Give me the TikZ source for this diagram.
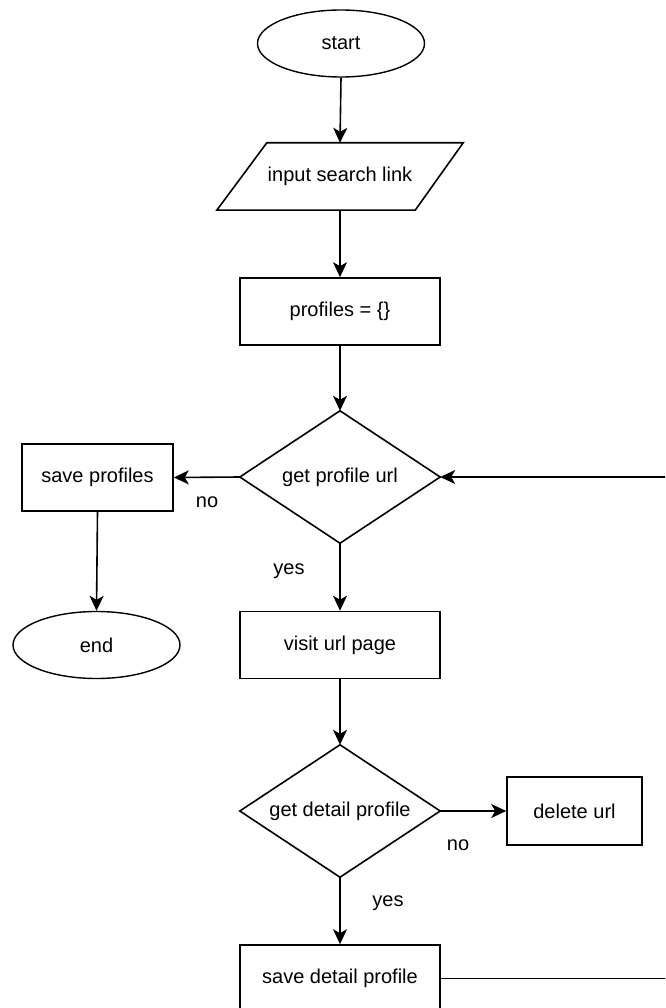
\documentclass[tikz,border=0pt]{standalone}
\usepackage{fontspec}
\setmainfont{Liberation Sans}
\usetikzlibrary{arrows.meta,shapes.geometric,calc}
\begin{document}
\begin{tikzpicture}[x=1pt,y=-1pt,
  every node/.style={font=\fontsize{20}{24}\selectfont},
  line/.style={line width=1.6pt,draw=black},
  arr/.style={line, -{Stealth[length=15pt,width=14pt,inset=4pt]}},
  box/.style={rectangle,draw,line width=1.6pt,minimum width=200pt,minimum height=67pt,inner sep=0pt},
  term/.style={ellipse,draw,line width=1.4pt,minimum width=167pt,minimum height=67pt,inner sep=0pt},
  hold/.style={rectangle,inner sep=0pt},
  lbl/.style={inner sep=0pt}]
\useasboundingbox (0,0) rectangle (665,1008);
\clip (0,0) rectangle (665,1008);
% nodes
\node[term] (start) at (341,43.5) {start};
\node[hold,minimum width=246pt,minimum height=67pt] (in) at (340,176.5) {input search link};
\draw[line,line join=miter] ($(in.north west)+(50,0)$) -- (in.north east) -- ($(in.south east)+(-48,0)$) -- (in.south west) -- cycle;
\node[box] (prof) at (340,311.5) {profiles = \{\}};
\node[hold,minimum width=200pt,minimum height=132pt] (d1) at (340,477) {get profile url};
\draw[line] (d1.north) -- (d1.east) -- (d1.south) -- (d1.west) -- cycle;
\node[box,minimum width=151pt] (sp) at (97.5,477.5) {save profiles};
\node[term] (end) at (96.5,645) {end};
\node[box] (visit) at (340,645) {visit url page};
\node[hold,minimum width=200pt,minimum height=132pt] (d2) at (340,811) {get detail profile};
\draw[line] (d2.north) -- (d2.east) -- (d2.south) -- (d2.west) -- cycle;
\node[box,minimum width=135pt,minimum height=68pt] (del) at (574.5,811) {delete url};
\node[box] (sdp) at (340,978.5) {save detail profile};
% labels
\node[lbl] (lno1) at (207,502) {no};
\node[lbl] (lyes1) at (289,571) {yes};
\node[lbl] (lno2) at (458,845) {no};
\node[lbl] (lyes2) at (388,903) {yes};
% loop corner
\coordinate (loopB) at (700,978.5);
% connectors
\draw[arr] (start.south) -- (in.north);
\draw[arr] (in.south) -- (prof.north);
\draw[arr] (prof.south) -- (d1.north);
\draw[arr] (d1.west) -- (sp.east);
\draw[arr] (sp.south) -- (end.north);
\draw[arr] (d1.south) -- (visit.north);
\draw[arr] (visit.south) -- (d2.north);
\draw[arr] (d2.east) -- (del.west);
\draw[arr] (d2.south) -- (sdp.north);
\draw[arr] (sdp.east) -- (loopB) |- (d1.east);
\end{tikzpicture}
\end{document}
